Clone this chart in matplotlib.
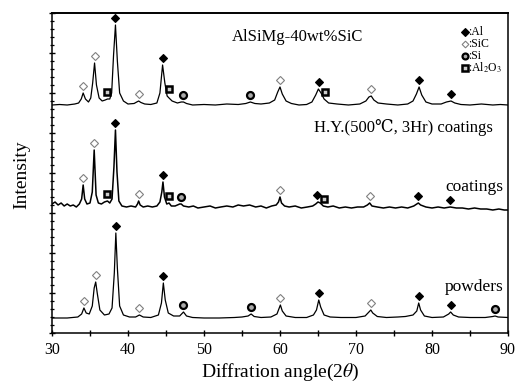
import matplotlib
matplotlib.use("Agg")
import matplotlib.pyplot as plt
from matplotlib.ticker import MultipleLocator
import numpy as np

plt.rcParams['font.family'] = ['Liberation Serif', 'DejaVu Serif']
plt.rcParams['mathtext.fontset'] = 'stix'

# ---------------- data (2theta, relative intensity) -------------
as_fabricated = [
    (30, 0), (31, 0.5), (32, 0), (33, 1), (33.5, 2), (33.85, 6), (34.1, 12), (34.4, 6),
    (34.8, 3), (35.1, 7), (35.35, 22), (35.6, 42), (35.85, 20), (36.2, 7), (36.6, 4),
    (37.0, 5), (37.3, 6), (37.6, 6), (37.85, 12), (38.1, 50), (38.35, 80), (38.6, 44),
    (38.9, 12), (39.4, 4), (40.0, 1), (40.8, 1.5), (41.15, 3), (41.4, 4), (41.7, 2.5),
    (42.2, 1), (43.0, 0.5), (43.8, 2), (44.2, 12), (44.55, 40), (44.85, 22), (45.15, 9),
    (45.4, 7), (45.8, 4), (46.5, 2), (47.0, 3), (47.3, 3), (47.7, 1.5), (48.5, 0),
    (50, 0.5), (51.5, 0), (53, 1), (54.5, 0.5), (55.5, 1.5), (56.1, 3), (56.7, 1.5),
    (57.5, 1), (58.6, 2), (59.3, 5), (59.7, 13), (60.0, 18), (60.3, 11), (60.8, 4),
    (61.5, 1.5), (62.5, 0), (63.5, 0.5), (64.2, 3), (64.7, 10), (65.05, 16), (65.4, 12),
    (65.8, 6), (66.4, 2), (67.5, 1), (69, 0), (70.5, 1), (71.3, 4), (71.7, 8), (72.0, 9),
    (72.35, 5), (72.9, 2), (74, 1), (75.5, 0), (76.8, 1), (77.5, 4), (77.95, 11),
    (78.3, 18), (78.65, 10), (79.2, 3), (80, 1), (81.2, 1), (81.9, 3), (82.5, 4),
    (83.0, 2), (83.8, 0.5), (85, 0), (86.5, 1), (88, 0), (89, 0.5), (90, 0),
]

coatings = [
    (30, 3), (30.4, 5), (30.8, 2), (31.2, 4), (31.6, 1), (32.0, 3), (32.4, 1), (32.8, 2),
    (33.2, 0), (33.6, 3), (33.9, 8), (34.1, 22), (34.3, 8), (34.6, 3), (35.0, 4),
    (35.3, 15), (35.55, 57), (35.8, 12), (36.1, 4), (36.5, 3), (36.9, 5), (37.3, 6),
    (37.6, 4), (37.9, 8), (38.15, 40), (38.35, 77), (38.55, 35), (38.8, 6), (39.2, 1),
    (39.8, 0), (40.4, 1), (41.0, 0), (41.25, 3), (41.4, 6), (41.6, 2), (42.0, 0),
    (42.6, 1), (43.2, 0), (43.8, 1), (44.2, 5), (44.45, 15), (44.6, 25), (44.8, 10),
    (45.1, 3), (45.4, 4), (45.7, 1), (46.2, 1), (46.8, 3), (47.0, 3), (47.3, 1), (48, 0),
    (48.6, 1), (49.2, -1), (50, 0), (50.8, 1), (51.5, -1), (52.2, 0), (53, 1), (53.8, 0),
    (54.5, 2), (55.2, 1), (56, 2), (56.8, 0), (57.5, 1), (58.2, -1), (58.9, 1), (59.5, 2),
    (59.8, 5), (60.0, 10), (60.2, 4), (60.6, 1), (61.2, 0), (62, 1), (62.8, -1),
    (63.6, 0), (64.3, 1), (64.7, 3), (65.0, 5), (65.3, 4), (65.7, 1), (66.3, 0), (67, 1),
    (67.8, -1), (68.6, 0), (69.4, -1), (70.2, 0), (71, 0), (71.5, 2), (71.8, 4),
    (72.1, 1), (72.8, 0), (73.6, -1), (74.4, 0), (75.2, -1), (76, 0), (76.8, -1),
    (77.6, 1), (78.0, 3), (78.2, 4), (78.5, 2), (79.2, 0), (80, -1), (80.8, 0),
    (81.6, -1), (82.4, 0), (83.2, -1), (84, -1), (84.8, -2), (85.6, -1), (86.4, -2),
    (87.2, -2), (88, -3), (88.8, -2), (89.5, -3), (90, -3),
]

powders = [
    (30, 0), (32, 0), (33.4, 1), (33.9, 4), (34.2, 10), (34.5, 5), (34.9, 4), (35.3, 12),
    (35.55, 30), (35.75, 36), (35.95, 25), (36.3, 8), (36.9, 3), (37.5, 4), (37.9, 10),
    (38.2, 45), (38.4, 85), (38.6, 50), (38.9, 12), (39.4, 3), (40.2, 1), (41.0, 1),
    (41.5, 3), (42.0, 1), (43, 0.5), (44.0, 3), (44.4, 15), (44.65, 35), (44.9, 18),
    (45.3, 5), (46, 2), (46.8, 2), (47.3, 6), (47.7, 2), (48.5, 0.5), (50, 0), (52, 0),
    (54, 0.5), (55, 1), (55.8, 2), (56.2, 4), (56.6, 1.5), (57.5, 0.5), (58.8, 1),
    (59.6, 4), (59.9, 10), (60.05, 13), (60.3, 7), (60.8, 2), (62, 0.5), (63.5, 0.5),
    (64.4, 3), (64.8, 8), (65.1, 18), (65.35, 11), (65.8, 3), (66.6, 1), (68, 0.5),
    (70, 0.5), (71.2, 2), (71.7, 6), (71.95, 8), (72.2, 5), (72.8, 1.5), (74, 0.5),
    (75.5, 1), (76.5, 1.5), (77.5, 3), (78.0, 7), (78.25, 15), (78.5, 8), (79, 2),
    (80, 0.5), (81.5, 1), (82.2, 4), (82.45, 6), (82.8, 3), (83.5, 1), (85, 0.5),
    (87, 0.5), (88.0, 1.5), (88.3, 2), (88.7, 1), (90, 0.5),
]

trace_offsets = [228, 126, 15]

# phase identification markers (2theta, phase)
as_fab_phases = [(34.1, 'SiC'), (35.6, 'SiC'), (37.3, 'Al2O3'), (38.35, 'Al'), (41.4, 'SiC'),
                 (44.6, 'Al'), (45.4, 'Al2O3'), (47.3, 'Si'), (56.1, 'Si'), (60.0, 'SiC'),
                 (65.1, 'Al'), (65.9, 'Al2O3'), (72.0, 'SiC'), (78.3, 'Al'), (82.5, 'Al')]
coat_phases = [(34.1, 'SiC'), (35.55, 'SiC'), (37.2, 'Al2O3'), (38.35, 'Al'), (41.4, 'SiC'),
               (44.6, 'Al'), (45.4, 'Al2O3'), (47.0, 'Si'), (60.0, 'SiC'), (64.9, 'Al'),
               (65.8, 'Al2O3'), (71.8, 'SiC'), (78.2, 'Al'), (82.4, 'Al')]
powd_phases = [(34.2, 'SiC'), (35.75, 'SiC'), (38.4, 'Al'), (41.5, 'SiC'), (44.65, 'Al'),
               (47.3, 'Si'), (56.2, 'Si'), (60.05, 'SiC'), (65.1, 'Al'), (71.95, 'SiC'),
               (78.25, 'Al'), (82.45, 'Al'), (88.3, 'Si')]

phase_names = ['Al', 'SiC', 'Si', 'Al2O3']
legend_labels = [':Al', ':SiC', ':Si', r':Al$_2$O$_3$']

sample_labels = ['AlSiMg-40wt%SiC', 'H.Y.(500\u2103, 3Hr) coatings', 'coatings', 'powders']
x_ticks = [30, 40, 50, 60, 70, 80, 90]

# ---------------- styles -------------
marker_style = {
    'Al': dict(marker='D', ms=4.5, mfc='black', mec='black', mew=0.8),
    'SiC': dict(marker='D', ms=4, mfc='white', mec='#808080', mew=0.8),
    'Si': dict(marker='o', ms=5, mfc='#aaaaaa', mec='black', mew=1.6),
    'Al2O3': dict(marker='s', ms=5, mfc='#cccccc', mec='black', mew=1.8),
}

W, H = 527, 388
fig = plt.figure(figsize=(W / 100, H / 100), dpi=100)
ax = fig.add_axes([52 / W, (H - 333) / H, 456 / W, 320 / H])

traces = [as_fabricated, coatings, powders]
phase_lists = [as_fab_phases, coat_phases, powd_phases]
lws = [0.9, 1.1, 0.9]
for tr, off, phs, lw in zip(traces, trace_offsets, phase_lists, lws):
    x = np.array([p[0] for p in tr])
    y = np.array([p[1] for p in tr]) + off
    ax.plot(x, y, color='black', lw=lw)
    for pos, ph in phs:
        near = np.abs(x - pos) <= 0.35
        ytop = y[near].max() if near.any() else np.interp(pos, x, y)
        ax.plot([pos], [ytop + 7], linestyle='none', **marker_style[ph])

# legend at top right (drawn manually)
for i, (ph, lab) in enumerate(zip(phase_names, legend_labels)):
    yy = 320 - 19 - i * 12
    st = dict(marker_style[ph])
    st['ms'] = st['ms'] * 0.85
    ax.plot([84.3], [yy], linestyle='none', clip_on=False, **st)
    ax.text(84.8, yy, lab, fontsize=8.5, va='center', ha='left')

ax.text(62.3, 320 - 24, sample_labels[0], fontsize=12, ha='center', va='center')
ax.text(76.2, 333 - 128, sample_labels[1], fontsize=12, ha='center', va='center')
ax.text(89.4, 333 - 187, sample_labels[2], fontsize=12.5, ha='right', va='center')
ax.text(89.4, 333 - 287, sample_labels[3], fontsize=12.5, ha='right', va='center')

ax.set_xlim(30, 90)
ax.set_ylim(0, 320)
ax.set_xticks(x_ticks)
ax.xaxis.set_minor_locator(MultipleLocator(5))
ax.yaxis.set_major_locator(MultipleLocator(40))
ax.yaxis.set_minor_locator(MultipleLocator(8))
ax.set_yticklabels([])
ax.tick_params(axis='x', which='both', direction='inout', length=5, width=1, labelsize=11.5, pad=4)
ax.tick_params(axis='y', which='major', direction='inout', length=5, width=1)
ax.tick_params(axis='y', which='minor', direction='inout', length=3.5, width=0.9)
for s in ax.spines.values():
    s.set_linewidth(1.1)
ax.spines['top'].set_linewidth(1.4)

ax.set_xlabel('Diffration angle(2$\\theta$)', fontsize=14, labelpad=3)
fig.text(22 / W, 1 - 175 / H, 'Intensity', rotation=90, fontsize=14, ha='center', va='center')

fig.savefig('out.png', dpi=100)
